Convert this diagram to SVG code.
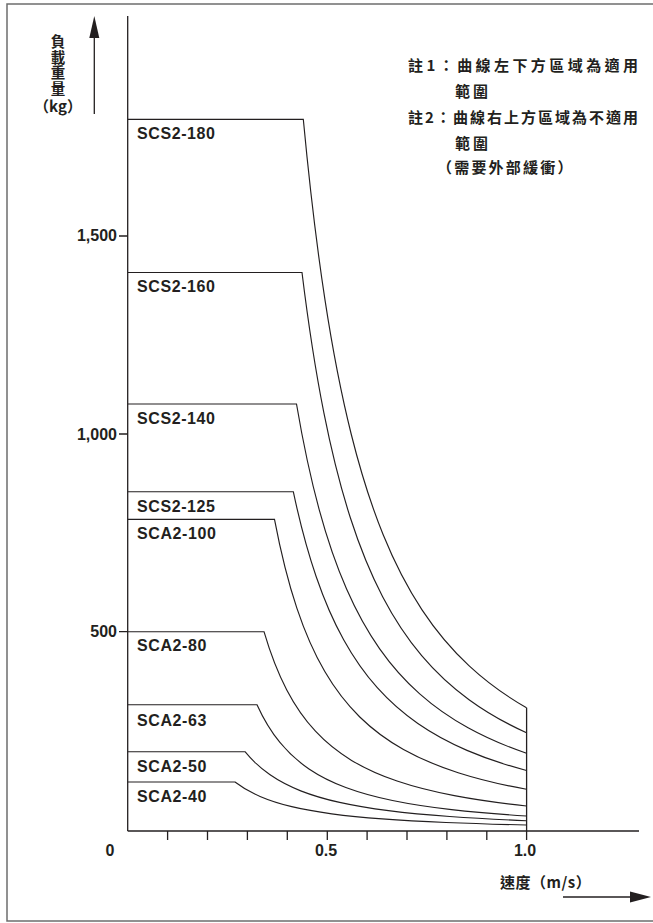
<svg xmlns="http://www.w3.org/2000/svg" width="653" height="923" viewBox="0 0 653 923">
<style>
.frame{fill:none;stroke:#6d6d6d;stroke-width:1.5}
.ax{fill:none;stroke:#231f20;stroke-width:1.3}
.cv{fill:none;stroke:#231f20;stroke-width:1.15;stroke-linejoin:miter}
.lbl{font-family:"Liberation Sans",Arial,sans-serif;font-weight:bold;font-size:16px;fill:#231f20}
.ser{letter-spacing:0.6px}
.cjk{font-family:"Noto Sans CJK TC","Noto Sans CJK SC",sans-serif;font-weight:bold;font-size:15px;fill:#231f20}
.vt{font-size:14.5px;writing-mode:vertical-rl;letter-spacing:1px}
</style>
<rect width="653" height="923" fill="#ffffff"/>
<path class="frame" d="M653,4 H7 V921 H653"/>

<g id="y-axis-title">
<line class="ax" x1="94.3" y1="37" x2="94.3" y2="114"/>
<polygon points="94.3,16 89.3,38 99.3,38" fill="#231f20"/>
<text class="cjk vt" x="58" y="34.5">負載重量</text>
<text class="cjk" x="58" y="112" text-anchor="middle">（kg）</text>
</g>

<g id="notes" class="cjk">
<text x="408" y="70.5" textLength="230" lengthAdjust="spacing">註1：曲線左下方區域為適用</text>
<text x="455" y="96.5" letter-spacing="3">範圍</text>
<text x="408" y="123" textLength="230" lengthAdjust="spacing">註2：曲線右上方區域為不適用</text>
<text x="455" y="148.5" letter-spacing="3">範圍</text>
<text x="437" y="172.5" letter-spacing="2.2">（需要外部緩衝）</text>
</g>

<g id="axes">
<line class="ax" x1="127.7" y1="16" x2="127.7" y2="831"/>
<line class="ax" x1="127.7" y1="831" x2="639" y2="831"/>
<path class="ax" d="M119,236 H127.7 M119,434 H127.7 M119,631.7 H127.7"/>
<path class="ax" d="M167.6,831 V840 M207.5,831 V840 M247.4,831 V840 M287.3,831 V840 M327.3,831 V840 M367.1,831 V840 M407,831 V840 M446.9,831 V840 M486.8,831 V840"/>
<line class="ax" x1="526.6" y1="707.7" x2="526.6" y2="840"/>
<text class="lbl" x="117" y="241" text-anchor="end">1,500</text>
<text class="lbl" x="117" y="439.5" text-anchor="end">1,000</text>
<text class="lbl" x="117" y="637" text-anchor="end">500</text>
<text class="lbl" x="110" y="856" text-anchor="middle">0</text>
<text class="lbl" x="326" y="856" text-anchor="middle">0.5</text>
<text class="lbl" x="525" y="856" text-anchor="middle">1.0</text>
</g>

<g id="x-axis-title">
<text class="cjk" x="500" y="888" letter-spacing="0.5">速度（m/s）</text>
<line class="ax" x1="563" y1="897" x2="632" y2="897"/>
<polygon points="651,897 630,891.5 630,902.5" fill="#231f20"/>
</g>

<g id="SCS2-180">
<path class="cv" d="M128,119.3 H303.3 C310.51,195.82 317.73,252.6 324.94,299.62 C333.71,356.76 342.48,399.14 351.24,434.25 C361.89,476.91 372.54,508.56 383.19,534.77 C396.13,566.62 409.08,590.25 422.02,609.82 C437.74,633.6 453.47,651.25 469.19,665.86 C488.3,683.62 507.4,696.79 526.5,707.7"/>
<text class="lbl ser" x="137" y="139">SCS2-180</text>
</g>
<g id="SCS2-160">
<path class="cv" d="M128,272.5 H302 C309.3,331.96 316.6,376.2 323.89,412.9 C332.74,457.41 341.58,490.54 350.43,518.01 C361.16,551.33 371.9,576.12 382.63,596.69 C395.65,621.63 408.66,640.19 421.68,655.59 C437.47,674.26 453.26,688.16 469.05,699.69 C488.2,713.67 507.35,724.07 526.5,732.7"/>
<text class="lbl ser" x="137" y="292">SCS2-160</text>
</g>
<g id="SCS2-140">
<path class="cv" d="M128,404 H296.5 C304.06,448.5 311.62,481.85 319.18,509.57 C328.31,543.07 337.45,568.16 346.58,589.03 C357.62,614.25 368.65,633.14 379.69,648.85 C393.03,667.83 406.37,682.05 419.71,693.88 C435.83,708.17 451.94,718.88 468.06,727.78 C487.54,738.54 507.02,746.6 526.5,753.3"/>
<text class="lbl ser" x="137" y="424">SCS2-140</text>
</g>
<g id="SCS2-125">
<path class="cv" d="M128,491.7 H293.3 C300.91,527.52 308.52,554.26 316.13,576.45 C325.35,603.33 334.57,623.38 343.79,640.03 C354.96,660.19 366.12,675.23 377.28,687.72 C390.8,702.85 404.33,714.14 417.85,723.51 C434.23,734.86 450.6,743.33 466.98,750.36 C486.82,758.87 506.66,765.23 526.5,770.5"/>
<text class="lbl ser" x="137" y="511.5">SCS2-125</text>
</g>
<g id="SCA2-100">
<path class="cv" d="M128,519.3 H274.5 C281.95,558.33 289.41,585.77 296.86,608.09 C306.18,636 315.49,655.61 324.81,671.58 C336.46,691.54 348.12,705.57 359.77,716.99 C374.34,731.27 388.92,741.31 403.49,749.47 C421.71,759.68 439.93,766.85 458.15,772.69 C480.93,779.99 503.72,785.12 526.5,789.3"/>
<text class="lbl ser" x="137" y="539">SCA2-100</text>
</g>
<g id="SCA2-80">
<path class="cv" d="M128,631.7 H264 C271.59,657.55 279.18,675.47 286.77,689.99 C296.33,708.28 305.89,720.95 315.45,731.23 C327.49,744.17 339.53,753.14 351.57,760.41 C366.73,769.57 381.89,775.92 397.05,781.06 C416.15,787.54 435.24,792.03 454.34,795.67 C478.39,800.25 502.45,803.43 526.5,806"/>
<text class="lbl ser" x="137" y="651">SCA2-80</text>
</g>
<g id="SCA2-63">
<path class="cv" d="M128,704.7 H257 C264.65,721.57 272.29,733.12 279.93,742.45 C289.62,754.28 299.3,762.38 308.99,768.92 C321.26,777.21 333.54,782.88 345.81,787.47 C361.36,793.28 376.92,797.26 392.47,800.48 C412.18,804.56 431.88,807.36 451.59,809.61 C476.56,812.47 501.53,814.42 526.5,816"/>
<text class="lbl ser" x="137" y="725.5">SCA2-63</text>
</g>
<g id="SCA2-50">
<path class="cv" d="M128,751.7 H245 C253.24,761.79 261.48,768.84 269.72,774.57 C280.06,781.75 290.39,786.77 300.73,790.84 C313.7,795.95 326.66,799.52 339.63,802.42 C355.9,806.06 372.17,808.6 388.44,810.66 C408.85,813.25 429.27,815.06 449.68,816.53 C475.29,818.37 500.89,819.66 526.5,820.7"/>
<text class="lbl ser" x="137" y="772">SCA2-50</text>
</g>
<g id="SCA2-40">
<path class="cv" d="M128,782 H235 C243.36,788.44 251.72,792.88 260.08,796.47 C270.64,801.01 281.18,804.14 291.74,806.67 C305.07,809.87 318.4,812.07 331.73,813.85 C348.56,816.1 365.39,817.66 382.22,818.92 C403.48,820.51 424.73,821.6 445.99,822.49 C472.83,823.61 499.66,824.38 526.5,825"/>
<text class="lbl ser" x="137" y="801.5">SCA2-40</text>
</g>
</svg>
